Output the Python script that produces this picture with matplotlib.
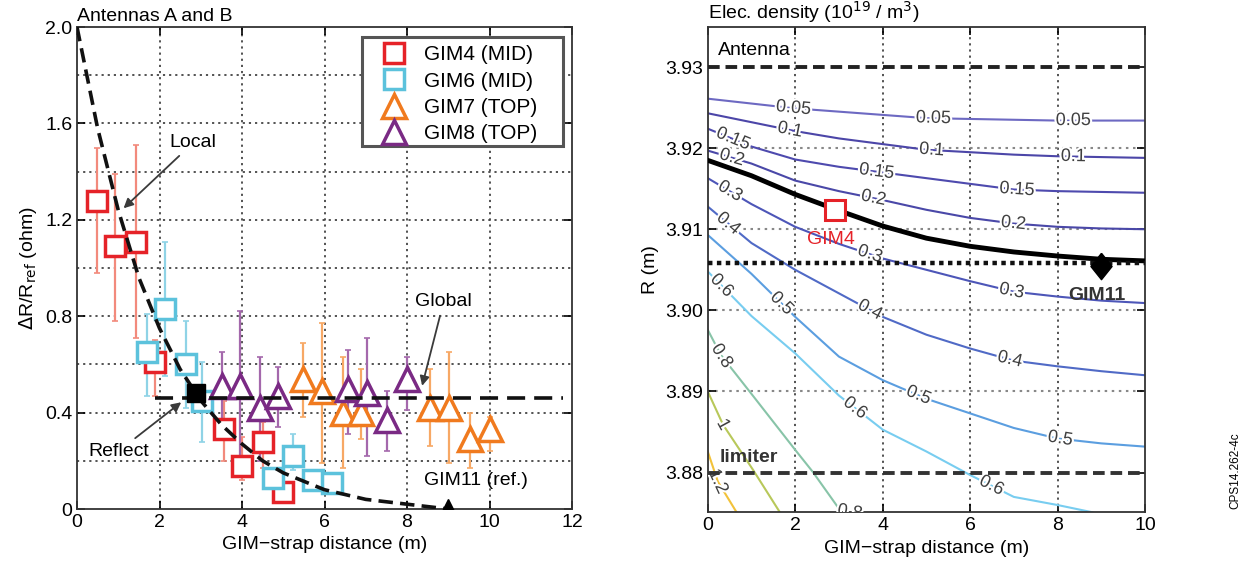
import numpy as np
import matplotlib.pyplot as plt
import matplotlib.patheffects as pe
from matplotlib.patches import Rectangle

plt.rcParams['font.family'] = ['Liberation Sans', 'DejaVu Sans']

# ---- left panel: antennas A and B ----
gim4_x = [0.48, 0.92, 1.42, 1.89, 3.56, 4.01, 4.50, 4.99]
gim4_y = [1.28, 1.09, 1.11, 0.61, 0.33, 0.18, 0.28, 0.07]
gim4_lo = [0.98, 0.78, 0.71, 0.47, 0.20, 0.12, 0.17, 0.05]
gim4_hi = [1.50, 1.39, 1.51, 0.70, 0.45, 0.30, 0.36, 0.09]

gim6_x = [1.69, 2.13, 2.64, 3.02, 4.76, 5.23, 5.71, 6.17]
gim6_y = [0.65, 0.83, 0.60, 0.45, 0.13, 0.22, 0.12, 0.11]
gim6_lo = [0.47, 0.55, 0.42, 0.28, 0.10, 0.16, 0.10, 0.09]
gim6_hi = [0.81, 1.11, 0.78, 0.61, 0.16, 0.31, 0.14, 0.13]

gim7_x = [5.49, 5.93, 6.44, 6.88, 8.56, 9.02, 9.53, 10.0]
gim7_y = [0.54, 0.49, 0.40, 0.40, 0.42, 0.42, 0.29, 0.33]
gim7_lo = [0.38, 0.19, 0.17, 0.29, 0.26, 0.19, 0.17, 0.24]
gim7_hi = [0.69, 0.77, 0.63, 0.58, 0.58, 0.65, 0.40, 0.38]

gim8_x = [3.51, 3.95, 4.44, 4.88, 6.58, 7.02, 7.51, 7.99]
gim8_y = [0.51, 0.51, 0.42, 0.47, 0.50, 0.48, 0.37, 0.54]
gim8_lo = [0.36, 0.22, 0.20, 0.34, 0.31, 0.22, 0.24, 0.41]
gim8_hi = [0.65, 0.82, 0.63, 0.59, 0.66, 0.71, 0.49, 0.63]

local_x = [0, 0.5, 1, 1.5, 2, 2.5, 3, 3.5, 4, 4.5, 5, 6, 7, 8, 9]
local_y = [2.0, 1.58, 1.24, 0.96, 0.75, 0.58, 0.45, 0.35, 0.27, 0.20, 0.15, 0.08, 0.04, 0.02, 0.0]
global_x = [1.89, 11.78]
global_y = [0.46, 0.46]
reflect_pt = (2.88, 0.48)
gim11_pt = (9.0, 0.0)

# ---- right panel: electron density contours (10^19 / m^3) ----
cx = [0, 1, 2, 3, 4, 5, 6, 7, 8, 9, 10]
r_005 = [3.9261, 3.9255, 3.9249, 3.9245, 3.9241, 3.9237, 3.9236, 3.9235, 3.9234, 3.9234, 3.9234]
r_010 = [3.9243, 3.9232, 3.9221, 3.9212, 3.9205, 3.9198, 3.9195, 3.9192, 3.9190, 3.9189, 3.9188]
r_015 = [3.9224, 3.9202, 3.9186, 3.9177, 3.9170, 3.9163, 3.9156, 3.9149, 3.9147, 3.9146, 3.9145]
r_020 = [3.9197, 3.9181, 3.9160, 3.9147, 3.9136, 3.9124, 3.9114, 3.9107, 3.9103, 3.9101, 3.9100]
r_030 = [3.9163, 3.9131, 3.9103, 3.9082, 3.9064, 3.9050, 3.9036, 3.9023, 3.9017, 3.9012, 3.9009]
r_040 = [3.9128, 3.9083, 3.9050, 3.9021, 3.8992, 3.8970, 3.8953, 3.8938, 3.8931, 3.8925, 3.8920]
r_050 = [3.9093, 3.9045, 3.8992, 3.8943, 3.8914, 3.8891, 3.8873, 3.8855, 3.8842, 3.8836, 3.8832]
gim4_path = [3.9185, 3.9166, 3.9143, 3.9123, 3.9104, 3.9089, 3.9079, 3.9072, 3.9067, 3.9063, 3.9061]

x_060 = [0, 1, 2, 3, 4, 5, 6, 7, 8, 8.8]
r_060 = [3.9048, 3.8993, 3.8947, 3.8895, 3.8853, 3.8826, 3.8797, 3.8770, 3.8760, 3.8751]
x_080 = [0, 0.3, 1, 2, 2.4, 3.06]
r_080 = [3.8976, 3.8945, 3.8897, 3.8828, 3.8801, 3.8751]
x_100 = [0, 0.35, 1.04, 1.65]
r_100 = [3.8900, 3.8859, 3.8803, 3.8751]
x_120 = [0, 0.23, 0.66]
r_120 = [3.8826, 3.8789, 3.8751]

levels = ['0.05', '0.1', '0.15', '0.2', '0.3', '0.4', '0.5', '0.6', '0.8', '1', '1.2']
level_x = [cx, cx, cx, cx, cx, cx, cx, x_060, x_080, x_100, x_120]
level_r = [r_005, r_010, r_015, r_020, r_030, r_040, r_050, r_060, r_080, r_100, r_120]
level_colors = ['#6d69c2', '#4c46a8', '#4e4aae', '#4a48a8', '#4d56b8', '#506ac6',
                '#5b9ee0', '#78cdf0', '#88c4a8', '#b8c85a', '#f2c23a']
label_x = [[1.96, 5.16, 8.36], [1.88, 5.12, 8.36], [0.58, 3.86, 7.07], [0.55, 3.79, 6.99],
           [0.51, 3.71, 6.95], [0.47, 3.71, 6.91], [1.69, 4.82, 8.06], [0.32, 3.37, 6.49],
           [0.32, 3.25], [0.35], [0.23]]

antenna_R = 3.93
limiter_R = 3.88
sep_R = 3.9058
gim4_pos = (2.91, 3.9124)
gim11_pos = (9.0, 3.9055)

fig = plt.figure(figsize=(12.5, 5.7), dpi=100)
ax1 = fig.add_axes([0.0616, 0.107, 0.396, 0.8456])
ax2 = fig.add_axes([0.5662, 0.1012, 0.3498, 0.8509])

grid_kw = dict(color='#444444', linestyle=(0, (1.2, 2.2)), linewidth=1.3, zorder=0)

# ---------------- left ----------------
for v in [2, 4, 6, 8, 10]:
    ax1.axvline(v, **grid_kw)
for v in [0.2, 0.4, 0.6, 0.8, 1.0, 1.2, 1.4, 1.6, 1.8]:
    ax1.axhline(v, **grid_kw)

series = [
    (gim4_x, gim4_y, gim4_lo, gim4_hi, 's', '#e52228', '#f28a7c', 'GIM4 (MID)', 14),
    (gim6_x, gim6_y, gim6_lo, gim6_hi, 's', '#5cc2dc', '#8fd3e6', 'GIM6 (MID)', 14),
    (gim7_x, gim7_y, gim7_lo, gim7_hi, '^', '#f07a1e', '#f7a865', 'GIM7 (TOP)', 17),
    (gim8_x, gim8_y, gim8_lo, gim8_hi, '^', '#7a2a84', '#a468ac', 'GIM8 (TOP)', 17),
]
for xs, ys, lo, hi, mk, col, ecol, lab, ms in series:
    xs = np.array(xs); ys = np.array(ys)
    yerr = [ys - np.array(lo), np.array(hi) - ys]
    ax1.errorbar(xs, ys, yerr=yerr, fmt='none', ecolor=ecol, elinewidth=1.6,
                 capsize=2.5, capthick=1.2, zorder=2)
    ax1.plot(xs, ys, linestyle='none', marker=mk, ms=ms, mfc='white', mec=col,
             mew=2.5, label=lab, zorder=3)

ax1.plot(local_x, local_y, color='#111111', linestyle=(0, (4, 2)), linewidth=2.6, zorder=4)
ax1.plot(global_x, global_y, color='#111111', linestyle=(0, (5, 2.5)), linewidth=2.6, zorder=4)
ax1.plot(*reflect_pt, marker='s', ms=13, color='black', zorder=5)
ax1.plot(*gim11_pt, marker='^', ms=14, color='black', zorder=5, clip_on=True)

arrow_kw = dict(arrowstyle='-|>', color='#3a3a3a', lw=1.3, mutation_scale=14)
ax1.annotate('Local', xy=(1.08, 1.24), xytext=(2.25, 1.52), fontsize=14,
             va='center', arrowprops=arrow_kw)
ax1.annotate('Global', xy=(8.35, 0.50), xytext=(8.2, 0.86), fontsize=14,
             va='center', arrowprops=arrow_kw)
ax1.annotate('Reflect', xy=(2.58, 0.45), xytext=(0.27, 0.24), fontsize=14,
             va='center', arrowprops=arrow_kw)
ax1.text(8.4, 0.12, 'GIM11 (ref.)', fontsize=14, va='center')

ax1.set_xlim(0, 12)
ax1.set_ylim(0, 2.0)
ax1.set_xticks([0, 2, 4, 6, 8, 10, 12])
ax1.set_yticks([0, 0.4, 0.8, 1.2, 1.6, 2.0])
ax1.set_yticklabels(['0', '0.4', '0.8', '1.2', '1.6', '2.0'])
ax1.set_xlabel('GIM\u2212strap distance (m)', fontsize=14)
ax1.set_ylabel(r'$\Delta$R/R$_{\rm ref}$ (ohm)', fontsize=14)
ax1.text(0.0, 1.005, 'Antennas A and B', transform=ax1.transAxes, fontsize=14, va='bottom')

# legend box drawn separately so it can be wider than its text
ax1.add_patch(Rectangle((0.576, 0.753), 0.406, 0.226, transform=ax1.transAxes,
                        facecolor='white', edgecolor='#555555', linewidth=2.2, zorder=6))
leg = ax1.legend(loc='upper left', bbox_to_anchor=(0.609, 0.962), borderaxespad=0,
                 borderpad=0, fontsize=15, frameon=False, labelspacing=0.35,
                 handletextpad=0.7, handlelength=1.5)
leg.set_zorder(7)

# ---------------- right ----------------
for v in [2, 4, 6, 8]:
    ax2.axvline(v, **grid_kw)
for v in [3.89, 3.90, 3.91, 3.92]:
    ax2.axhline(v, color='#888888', linestyle=(0, (1.2, 2.2)), linewidth=1.5, zorder=0)

ax2.set_xlim(0, 10)
ax2.set_ylim(3.8751, 3.9349)

for xs, rs, col in zip(level_x, level_r, level_colors):
    ax2.plot(xs, rs, color=col, linewidth=1.5, zorder=2)

for xs, rs, lab, lxs in zip(level_x, level_r, levels, label_x):
    for lx in lxs:
        ly = np.interp(lx, xs, rs)
        p1 = ax2.transData.transform((lx - 0.25, np.interp(lx - 0.25, xs, rs)))
        p2 = ax2.transData.transform((lx + 0.25, np.interp(lx + 0.25, xs, rs)))
        ang = np.degrees(np.arctan2(p2[1] - p1[1], p2[0] - p1[0]))
        ax2.text(lx, ly, lab, fontsize=13, color='#404040', rotation=ang,
                 rotation_mode='anchor', ha='center', va='center', zorder=3,
                 clip_on=True,
                 path_effects=[pe.withStroke(linewidth=3, foreground='white')])

ax2.plot(cx, gim4_path, color='black', linewidth=3.5, zorder=4)
ax2.axhline(antenna_R, color='#222222', linestyle=(0, (3, 1.5)), linewidth=2.8, zorder=4)
ax2.axhline(limiter_R, color='#333333', linestyle=(0, (3, 1.5)), linewidth=2.8, zorder=4)
ax2.axhline(sep_R, color='#111111', linestyle=(0, (1, 1)), linewidth=3.2, zorder=4)
ax2.plot(*gim4_pos, marker='s', ms=14, mfc='white', mec='#e52228', mew=2.2, zorder=5)
ax2.plot(*gim11_pos, marker=[(0, 1), (0.8, 0), (0, -1), (-0.8, 0), (0, 1)], ms=19,
         color='black', zorder=5)

ax2.text(0.24, 3.9321, 'Antenna', fontsize=14, va='center')
ax2.text(0.28, 3.8818, 'limiter', fontsize=14, va='center', color='#333333',
         fontweight='bold')
ax2.text(2.81, 3.9087, 'GIM4', fontsize=14, va='center', ha='center', color='#e52228')
ax2.text(8.9, 3.9018, 'GIM11', fontsize=14, va='center', ha='center', color='#333333',
         fontweight='bold')

ax2.set_xticks([0, 2, 4, 6, 8, 10])
ax2.set_yticks([3.88, 3.89, 3.90, 3.91, 3.92, 3.93])
ax2.set_yticklabels(['3.88', '3.89', '3.90', '3.91', '3.92', '3.93'])
ax2.set_xlabel('GIM\u2212strap distance (m)', fontsize=14)
ax2.set_ylabel('R (m)', fontsize=14)
ax2.text(0.0, 1.005, r'Elec. density (10$^{19}$ / m$^3$)', transform=ax2.transAxes,
         fontsize=14, va='bottom')

for ax in (ax1, ax2):
    ax.tick_params(direction='in', length=6, width=1.2, labelsize=14,
                   top=True, right=True)
    for sp in ax.spines.values():
        sp.set_linewidth(1.3)
        sp.set_color('#333333')

fig.text(0.988, 0.175, 'CPS14.262-4c', rotation=90, fontsize=8.5, ha='center', va='center')

fig.savefig('out.png', dpi=100)
